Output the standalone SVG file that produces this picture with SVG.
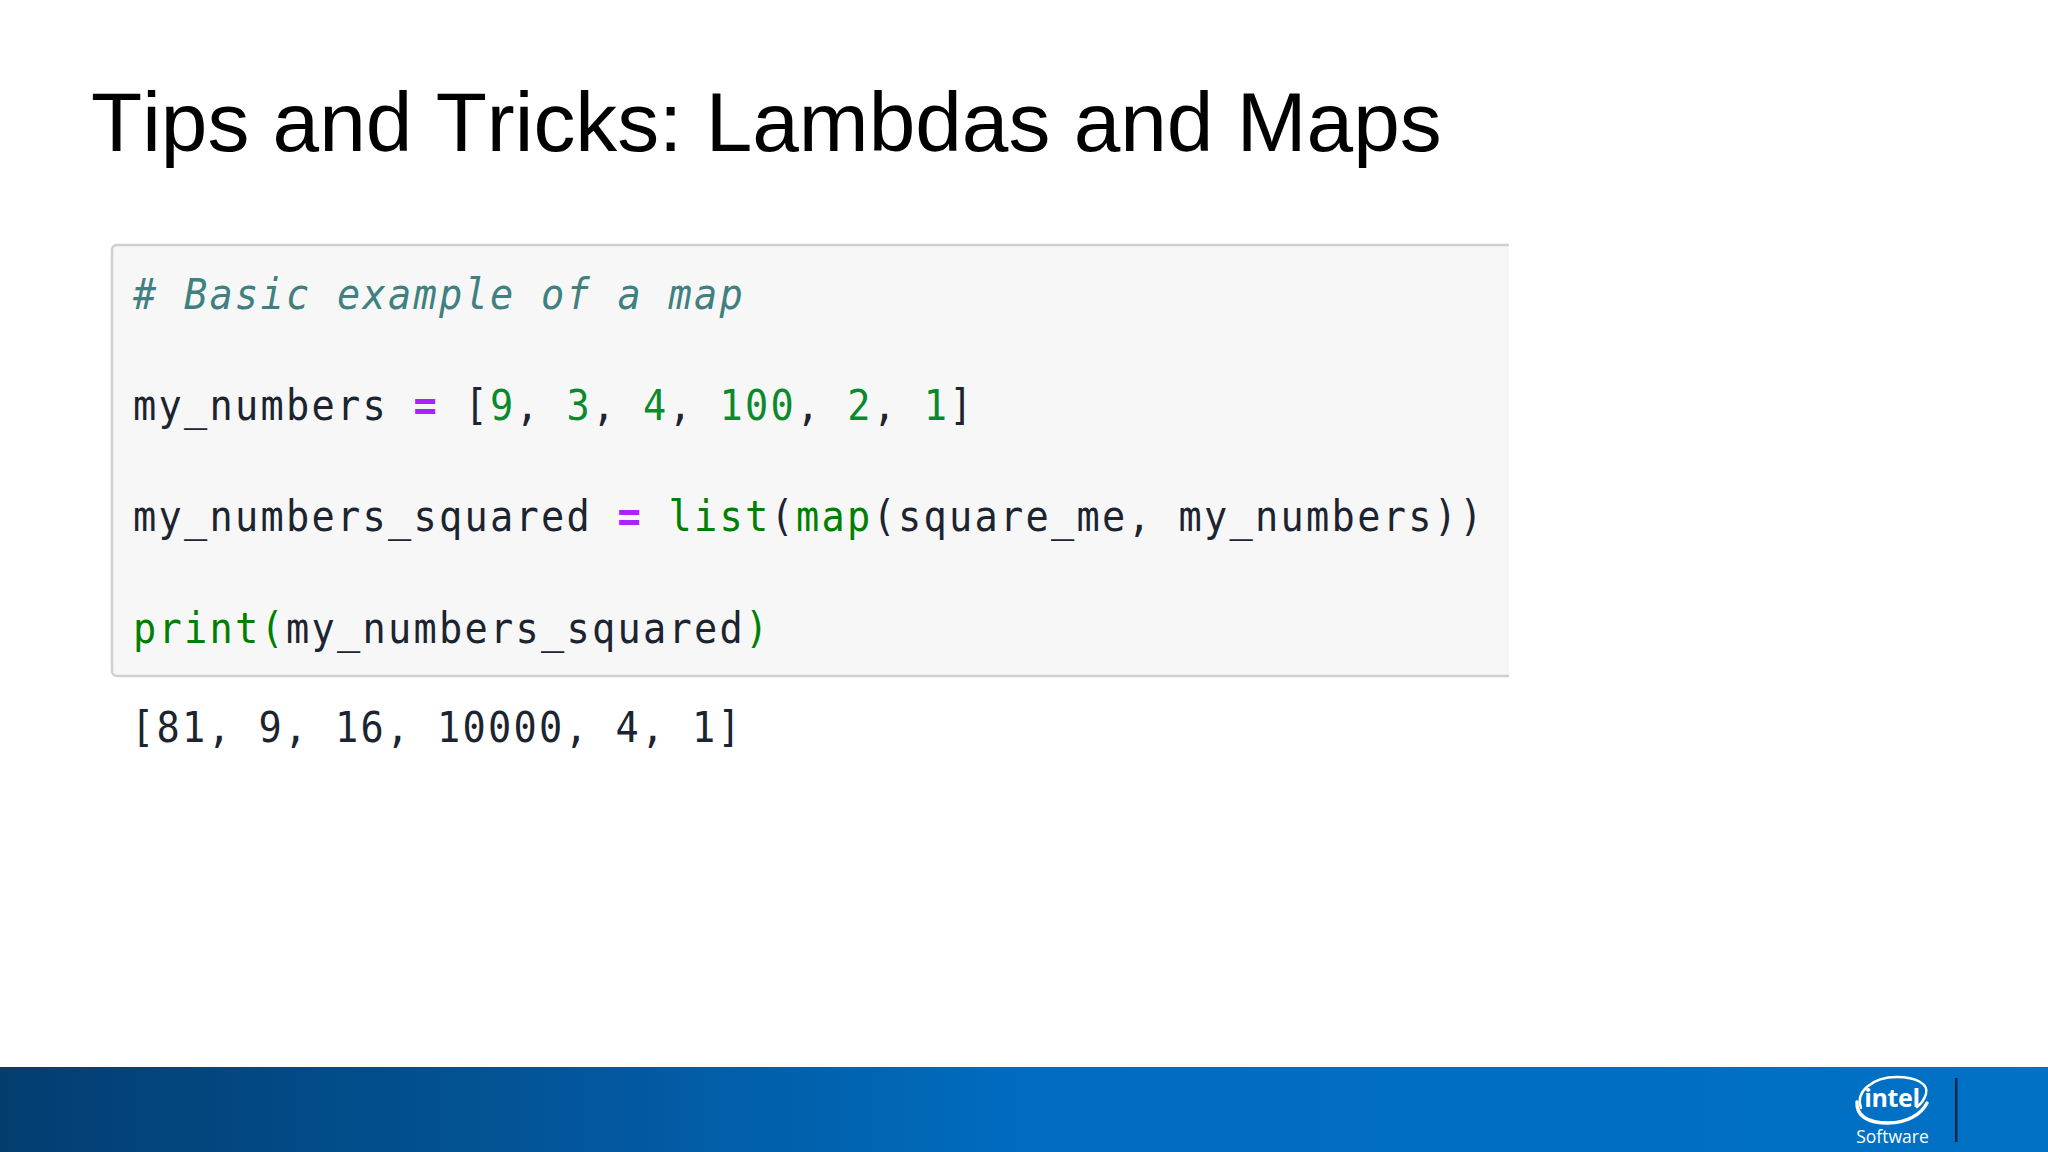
<svg xmlns="http://www.w3.org/2000/svg" width="2048" height="1152" viewBox="0 0 2048 1152">
<style>
.c{font-family:"DejaVu Sans Mono","Liberation Mono",monospace;font-size:42px;letter-spacing:2.44px;fill:#1c2430;white-space:pre}
.k{fill:#008000}.n{fill:#0a8a2a}.o{fill:#aa22ff;font-weight:bold}.m{fill:#408080;font-style:italic}
</style>
<defs><linearGradient id="bar" x1="0" y1="0" x2="1" y2="0"><stop offset="0" stop-color="#033d70"/><stop offset="0.14" stop-color="#024a85"/><stop offset="0.3" stop-color="#03589f"/><stop offset="0.5" stop-color="#006cbf"/><stop offset="1" stop-color="#0071c5"/></linearGradient></defs>
<rect width="2048" height="1152" fill="#fff"/>
<text id="title" x="91" y="151" font-family="Liberation Sans,Arial,sans-serif" font-size="83.8" fill="#000" style="font-kerning:none">Tips and Tricks: Lambdas and Maps</text>
<g id="code">
<path d="M1509 245H117a5 5 0 0 0-5 5V671a5 5 0 0 0 5 5H1509Z" fill="#f7f7f8"/>
<path d="M1509 245H117a5 5 0 0 0-5 5V671a5 5 0 0 0 5 5H1509" fill="none" stroke="#cfcfcf" stroke-width="2.5"/>
<text class="c" transform="translate(133 309) scale(.92 1)"><tspan class="m"># Basic example of a map</tspan></text>
<text class="c" transform="translate(133 420) scale(.92 1)">my_numbers <tspan class="o">=</tspan> [<tspan class="n">9</tspan>, <tspan class="n">3</tspan>, <tspan class="n">4</tspan>, <tspan class="n">100</tspan>, <tspan class="n">2</tspan>, <tspan class="n">1</tspan>]</text>
<text class="c" transform="translate(133 531) scale(.92 1)">my_numbers_squared <tspan class="o">=</tspan> <tspan class="k">list</tspan>(<tspan class="k">map</tspan>(square_me, my_numbers))</text>
<text class="c" transform="translate(133 643) scale(.92 1)"><tspan class="k">print(</tspan>my_numbers_squared<tspan class="k">)</tspan></text>
<text class="c" transform="translate(131 742) scale(.92 1)">[81, 9, 16, 10000, 4, 1]</text>
</g>
<g id="footer">
<rect y="1067" width="2048" height="85" fill="url(#bar)"/>
<g fill="none" stroke="#fff" stroke-linecap="round">
<path d="M1861 1108C1855 1092 1872 1077 1897 1077C1916 1077 1929 1084 1926 1094C1924 1100 1921 1104 1917 1107" stroke-width="2.4"/>
<path d="M1857 1102C1856 1116 1868 1123 1888 1123C1906 1123 1921 1115 1927 1103" stroke-width="3.4"/>
</g>
<text x="1892" y="1107" text-anchor="middle" font-family="Open Sans,sans-serif" font-size="25" font-weight="700" fill="#fff" letter-spacing="-0.4">intel</text>
<text x="1892.500" y="1143" text-anchor="middle" font-family="Open Sans,sans-serif" font-size="17.500" fill="#fff">Software</text>
<rect x="1955" y="1078" width="2.4" height="64" fill="#0b2545"/>
</g>
</svg>
